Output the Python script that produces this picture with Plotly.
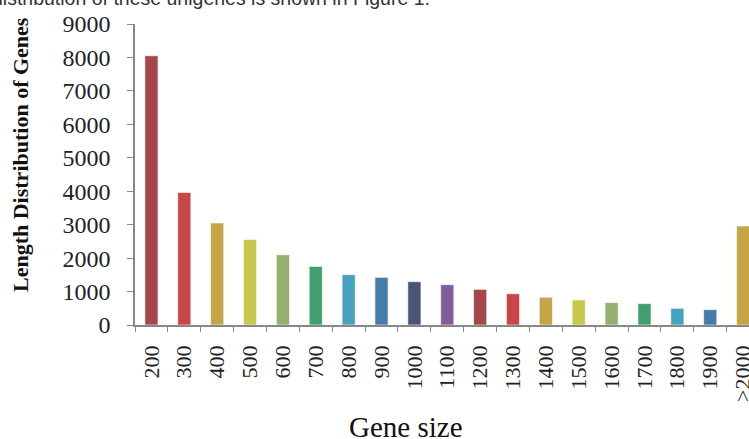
import plotly.graph_objects as go

categories = ["200", "300", "400", "500", "600", "700", "800", "900", "1000", "1100",
              "1200", "1300", "1400", "1500", "1600", "1700", "1800", "1900", ">2000"]
counts = [8050, 3960, 3050, 2560, 2100, 1750, 1505, 1425, 1295, 1205,
          1065, 935, 830, 750, 670, 640, 500, 460, 2960]
bar_colors = ["#A5474D", "#C84648", "#C4A548", "#C8C84A", "#93B06E", "#43A06E",
              "#47A2BE", "#467CAA", "#4A5478", "#7F5E9A",
              "#A5474D", "#C84648", "#C4A548", "#C8C84A", "#93B06E", "#43A06E",
              "#47A2BE", "#467CAA", "#C4A548"]
y_ticks = [0, 1000, 2000, 3000, 4000, 5000, 6000, 7000, 8000, 9000]

serif = "Liberation Serif, Times New Roman, serif"

fig = go.Figure(go.Bar(
    x=categories, y=counts,
    marker=dict(color=bar_colors, line=dict(color="rgba(255,255,255,0.6)", width=1)),
    width=0.4,
))

fig.update_layout(
    width=749, height=439,
    margin=dict(l=135, r=0, t=24, b=114),
    paper_bgcolor="white", plot_bgcolor="white",
    showlegend=False,
    xaxis=dict(
        type="category",
        range=[-0.5, 18.18],
        automargin=False,
        showline=True, linecolor="#888888", linewidth=1.5,
        ticks="outside", tickson="boundaries", ticklen=5, tickcolor="#888888",
        tickangle=-90,
        tickfont=dict(family=serif, size=22, color="#222222"),
        ticklabelstandoff=10,
        showgrid=False, zeroline=False,
    ),
    yaxis=dict(
        range=[0, 9000],
        automargin=False,
        tickvals=y_ticks,
        showline=True, linecolor="#888888", linewidth=1.5,
        ticks="outside", ticklen=6, tickcolor="#888888",
        tickfont=dict(family=serif, size=24, color="#222222"),
        ticklabelstandoff=12,
        showgrid=False, zeroline=False,
    ),
    annotations=[
        dict(text="<b>Length Distribution of Genes</b>", textangle=-90,
             xref="paper", yref="paper", x=(20 - 135) / 614, y=(325 - 155) / 301,
             xanchor="center", yanchor="middle", showarrow=False,
             font=dict(family=serif, size=22, color="#111111")),
        dict(text="Gene size",
             xref="paper", yref="paper", x=(406 - 135) / 614, y=-(427 - 325) / 301,
             xanchor="center", yanchor="middle", showarrow=False,
             font=dict(family=serif, size=29, color="#111111")),
        dict(text="distribution of these unigenes is shown in Figure 1.",
             xref="paper", yref="paper", x=(-10 - 135) / 614, y=1 + (24 + 2) / 301,
             xanchor="left", yanchor="middle", showarrow=False,
             font=dict(family="Liberation Sans, Arial, sans-serif", size=19.5, color="#333333")),
    ],
)

fig.write_html("out.html", config={"displayModeBar": False},
               post_script="document.body.style.margin='0';")
